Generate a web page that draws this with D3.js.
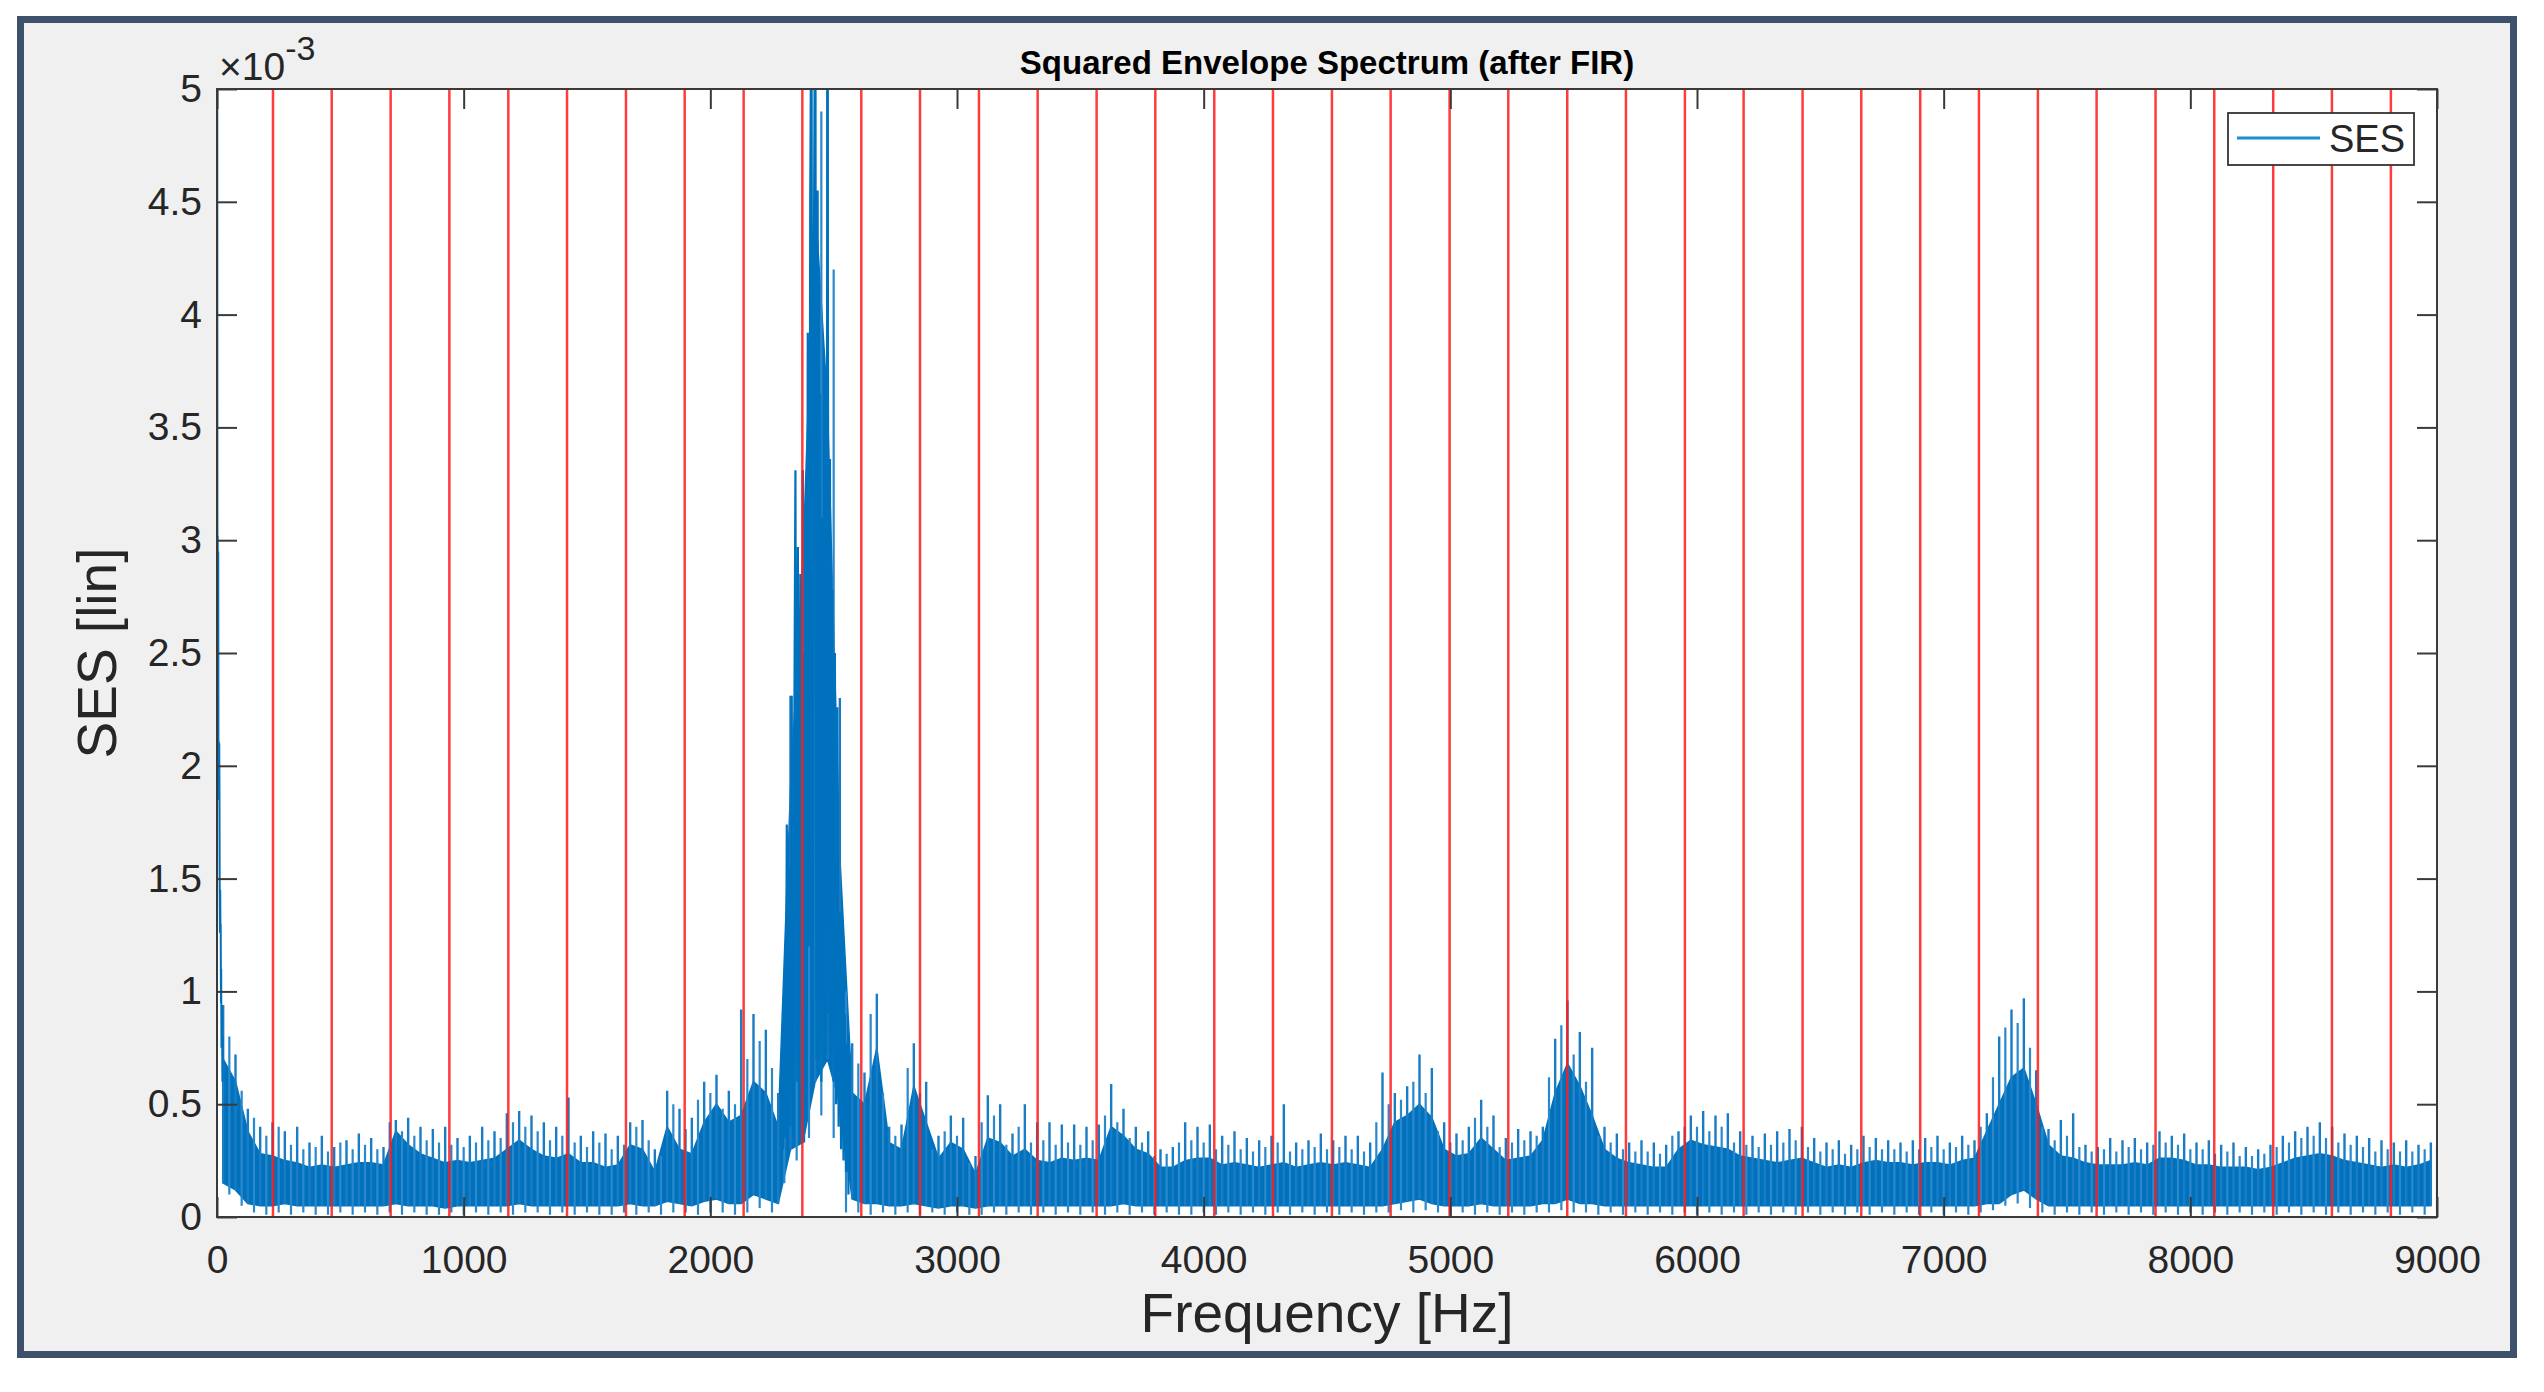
<!DOCTYPE html>
<html><head><meta charset="utf-8">
<script src="https://cdn.jsdelivr.net/npm/d3@7/dist/d3.min.js"></script>
<style>
html,body{margin:0;padding:0;background:#fff;}
svg{display:block;font-family:"Liberation Sans",Arial,Helvetica,sans-serif;}
</style>
</head><body>
<svg id="chart" width="2544" height="1392"></svg>
<script>
// ---------- DATA (values in units of 1e-3) ----------
const titleText = "Squared Envelope Spectrum (after FIR)";
const xLabelText = "Frequency [Hz]";
const yLabelText = "SES [lin]";
const legendLabel = "SES";

const xTickValues = [0,1000,2000,3000,4000,5000,6000,7000,8000,9000];
const xTickLabels = ["0","1000","2000","3000","4000","5000","6000","7000","8000","9000"];
const yTickValues = [0,0.5,1,1.5,2,2.5,3,3.5,4,4.5,5];
const yTickLabels = ["0","0.5","1","1.5","2","2.5","3","3.5","4","4.5","5"];

// red marker lines (Hz)
const markerHz = [227,465,704,942,1181,1419,1658,1896,2135,2373,2612,2850,3089,3327,3566,3804,4043,4281,4520,4758,4997,5235,5474,5712,5951,6189,6428,6666,6905,7143,7382,7620,7859,8097,8336,8574,8813];

// lowest-frequency part of the spectrum (raw points)
const dcHz  = [0,1,2,3,4,5,6,7,8,9,10,11,12,13,14,15,16,17,18,20,22,24];
const dcVal = [0.05,5.6,1.9,3.02,1.85,2.95,1.9,2.11,1.85,2.1,1.9,1.47,1.26,1.45,1.27,1.3,0.95,1.1,0.75,0.94,0.6,0.8];

// main peak region (raw points)
const peakHz  = [2290,2295,2300,2305,2310,2315,2320,2325,2330,2335,2340,2345,2350,2355,2360,2365,2370,2375,2380,2385,2390,2395,2400,2405,2410,2415,2420,2425,2430,2435,2440,2445,2450,2455,2460,2465,2470,2475,2480,2485,2490,2495,2500,2505,2510,2515,2520,2525,2530,2535,2540,2545,2550,2555,2560];
const peakVal = [0.45,0.30,0.83,0.35,1.74,0.45,1.55,0.40,2.31,0.50,2.02,3.31,0.60,2.97,0.55,2.85,0.40,2.50,0.33,2.26,0.55,3.92,1.20,4.50,5.60,0.80,4.30,5.60,0.70,4.55,0.74,3.65,0.60,3.10,0.70,3.00,0.72,5.60,0.90,3.36,0.70,2.78,0.60,2.50,0.50,2.26,0.40,1.35,0.30,1.06,0.25,0.90,0.20,0.77,0.10];

// 50 Hz bins: centre frequency, max spike, top of dense band, bottom of band
const binHz = [25,75,125,175,225,275,325,375,425,475,525,575,625,675,725,775,825,875,925,975,
1025,1075,1125,1175,1225,1275,1325,1375,1425,1475,1525,1575,1625,1675,1725,1775,1825,1875,1925,1975,
2025,2075,2125,2175,2225,2275,2325,2375,2425,2475,2525,2575,2625,2675,2725,2775,2825,2875,2925,2975,
3025,3075,3125,3175,3225,3275,3325,3375,3425,3475,3525,3575,3625,3675,3725,3775,3825,3875,3925,3975,
4025,4075,4125,4175,4225,4275,4325,4375,4425,4475,4525,4575,4625,4675,4725,4775,4825,4875,4925,4975,
5025,5075,5125,5175,5225,5275,5325,5375,5425,5475,5525,5575,5625,5675,5725,5775,5825,5875,5925,5975,
6025,6075,6125,6175,6225,6275,6325,6375,6425,6475,6525,6575,6625,6675,6725,6775,6825,6875,6925,6975,
7025,7075,7125,7175,7225,7275,7325,7375,7425,7475,7525,7575,7625,7675,7725,7775,7825,7875,7925,7975,
8025,8075,8125,8175,8225,8275,8325,8375,8425,8475,8525,8575,8625,8675,8725,8775,8825,8875,8925,8975];

const sesMax = [0.94,0.72,0.48,0.40,0.42,0.38,0.40,0.33,0.36,0.31,0.34,0.37,0.35,0.31,0.43,0.44,0.40,0.39,0.40,0.35,
0.36,0.40,0.38,0.46,0.47,0.45,0.42,0.40,0.53,0.36,0.38,0.37,0.36,0.42,0.43,0.30,0.56,0.48,0.44,0.60,
0.63,0.56,0.92,0.90,0.83,0.55,2.31,3.31,5.60,5.60,2.30,0.77,0.64,0.99,0.40,0.41,0.77,0.60,0.36,0.45,
0.44,0.27,0.54,0.50,0.37,0.50,0.42,0.42,0.41,0.41,0.40,0.41,0.59,0.48,0.40,0.38,0.30,0.31,0.42,0.40,
0.41,0.36,0.38,0.35,0.34,0.36,0.50,0.33,0.34,0.37,0.34,0.36,0.36,0.33,0.64,0.55,0.58,0.72,0.66,0.42,
0.37,0.40,0.52,0.45,0.35,0.39,0.38,0.40,0.79,0.96,0.82,0.75,0.40,0.37,0.33,0.34,0.33,0.32,0.38,0.45,
0.47,0.45,0.46,0.38,0.36,0.37,0.38,0.39,0.40,0.35,0.33,0.34,0.32,0.36,0.35,0.34,0.33,0.34,0.35,0.36,
0.33,0.36,0.34,0.46,0.80,0.92,0.97,0.65,0.39,0.43,0.46,0.32,0.31,0.35,0.34,0.35,0.33,0.38,0.36,0.37,
0.33,0.34,0.32,0.33,0.31,0.30,0.32,0.36,0.38,0.40,0.42,0.40,0.37,0.36,0.35,0.34,0.33,0.34,0.32,0.33];

const sesTop = [0.70,0.60,0.38,0.28,0.27,0.25,0.24,0.22,0.23,0.22,0.23,0.24,0.24,0.23,0.38,0.32,0.28,0.26,0.24,0.25,
0.24,0.25,0.26,0.30,0.34,0.30,0.27,0.26,0.28,0.24,0.24,0.22,0.23,0.32,0.30,0.20,0.40,0.30,0.28,0.42,
0.50,0.42,0.45,0.60,0.55,0.40,1.90,2.90,4.50,3.60,1.60,0.55,0.50,0.75,0.33,0.30,0.58,0.42,0.26,0.33,
0.30,0.19,0.35,0.33,0.27,0.30,0.25,0.24,0.26,0.25,0.26,0.25,0.40,0.36,0.30,0.28,0.22,0.22,0.25,0.26,
0.26,0.23,0.24,0.23,0.22,0.23,0.24,0.22,0.23,0.24,0.23,0.24,0.23,0.22,0.30,0.42,0.45,0.50,0.44,0.30,
0.27,0.28,0.35,0.30,0.25,0.26,0.27,0.34,0.55,0.68,0.58,0.45,0.30,0.26,0.24,0.23,0.22,0.22,0.30,0.34,
0.32,0.31,0.30,0.27,0.26,0.25,0.24,0.25,0.26,0.24,0.22,0.23,0.22,0.24,0.25,0.24,0.24,0.23,0.24,0.24,
0.23,0.25,0.26,0.38,0.50,0.62,0.66,0.50,0.32,0.27,0.26,0.24,0.23,0.23,0.23,0.24,0.23,0.26,0.26,0.25,
0.23,0.23,0.22,0.22,0.22,0.21,0.22,0.24,0.26,0.27,0.28,0.27,0.25,0.24,0.23,0.22,0.23,0.22,0.23,0.25];

const sesMin = [0.15,0.12,0.06,0.05,0.05,0.06,0.05,0.05,0.05,0.05,0.05,0.05,0.05,0.05,0.06,0.05,0.05,0.05,0.04,0.05,
0.05,0.05,0.05,0.05,0.06,0.05,0.05,0.05,0.05,0.05,0.05,0.05,0.05,0.06,0.05,0.05,0.07,0.06,0.05,0.07,
0.08,0.06,0.06,0.10,0.08,0.06,0.30,0.33,0.60,0.70,0.50,0.08,0.06,0.06,0.05,0.05,0.06,0.05,0.04,0.05,
0.05,0.04,0.05,0.05,0.05,0.05,0.05,0.05,0.05,0.05,0.05,0.05,0.05,0.06,0.05,0.05,0.05,0.05,0.05,0.05,
0.05,0.05,0.05,0.05,0.05,0.05,0.05,0.05,0.05,0.05,0.05,0.05,0.05,0.05,0.05,0.06,0.07,0.08,0.06,0.05,
0.05,0.05,0.06,0.05,0.05,0.05,0.05,0.06,0.06,0.08,0.06,0.06,0.05,0.05,0.05,0.05,0.05,0.05,0.05,0.05,
0.05,0.05,0.05,0.05,0.05,0.05,0.05,0.05,0.05,0.05,0.05,0.05,0.05,0.05,0.05,0.05,0.05,0.05,0.05,0.05,
0.05,0.05,0.05,0.06,0.06,0.10,0.12,0.08,0.05,0.05,0.05,0.05,0.05,0.05,0.05,0.05,0.05,0.05,0.05,0.05,
0.05,0.05,0.05,0.05,0.05,0.05,0.05,0.05,0.05,0.05,0.05,0.05,0.05,0.05,0.05,0.05,0.05,0.05,0.05,0.05];

// in-between spikes at the 50 Hz bin edges: edge frequency, spike top, dip bottom
const edgeHz = [50,100,150,200,250,300,350,400,450,500,550,600,650,700,750,800,850,900,950,1000,
1050,1100,1150,1200,1250,1300,1350,1400,1450,1500,1550,1600,1650,1700,1750,1800,1850,1900,1950,2000,
2050,2100,2150,2200,2250,2300,2350,2400,2450,2500,2550,2600,2650,2700,2750,2800,2850,2900,2950,3000,
3050,3100,3150,3200,3250,3300,3350,3400,3450,3500,3550,3600,3650,3700,3750,3800,3850,3900,3950,4000,
4050,4100,4150,4200,4250,4300,4350,4400,4450,4500,4550,4600,4650,4700,4750,4800,4850,4900,4950,5000,
5050,5100,5150,5200,5250,5300,5350,5400,5450,5500,5550,5600,5650,5700,5750,5800,5850,5900,5950,6000,
6050,6100,6150,6200,6250,6300,6350,6400,6450,6500,6550,6600,6650,6700,6750,6800,6850,6900,6950,7000,
7050,7100,7150,7200,7250,7300,7350,7400,7450,7500,7550,7600,7650,7700,7750,7800,7850,7900,7950,8000,
8050,8100,8150,8200,8250,8300,8350,8400,8450,8500,8550,8600,8650,8700,8750,8800,8850,8900,8950,9000];

const sesEdgeMax = [0.80,0.56,0.44,0.36,0.40,0.32,0.30,0.31,0.29,0.33,0.30,0.32,0.30,0.42,0.38,0.36,0.34,0.33,0.32,0.31,
0.33,0.34,0.35,0.42,0.40,0.38,0.34,0.36,0.33,0.31,0.33,0.30,0.32,0.40,0.34,0.27,0.50,0.39,0.52,0.55,
0.48,0.50,0.70,0.78,0.66,0.50,2.60,3.00,4.90,4.20,1.00,0.68,0.90,0.55,0.36,0.66,0.55,0.30,0.38,0.36,
0.24,0.42,0.45,0.32,0.40,0.33,0.34,0.32,0.33,0.32,0.34,0.45,0.42,0.35,0.33,0.27,0.28,0.33,0.34,0.33,
0.30,0.32,0.30,0.29,0.31,0.33,0.29,0.30,0.31,0.30,0.31,0.30,0.29,0.42,0.50,0.52,0.60,0.55,0.38,0.33,
0.34,0.44,0.40,0.31,0.33,0.34,0.36,0.62,0.85,0.72,0.60,0.36,0.33,0.30,0.29,0.29,0.28,0.36,0.40,0.40,
0.38,0.40,0.33,0.32,0.31,0.32,0.33,0.34,0.31,0.29,0.30,0.28,0.30,0.31,0.30,0.30,0.29,0.30,0.31,0.30,
0.31,0.32,0.40,0.62,0.84,0.86,0.75,0.40,0.34,0.36,0.31,0.29,0.30,0.29,0.31,0.30,0.32,0.33,0.32,0.30,
0.30,0.28,0.29,0.27,0.27,0.28,0.31,0.33,0.35,0.36,0.35,0.33,0.32,0.31,0.29,0.30,0.29,0.29,0.30,0.31];

const sesEdgeMin = [0.10,0.05,0.02,0.01,0.02,0.01,0.02,0.01,0.01,0.02,0.01,0.02,0.01,0.02,0.01,0.02,0.01,0.01,0.02,0.01,
0.02,0.01,0.02,0.01,0.02,0.02,0.01,0.02,0.01,0.02,0.01,0.01,0.02,0.01,0.02,0.01,0.02,0.02,0.01,0.02,
0.02,0.01,0.02,0.04,0.02,0.15,0.25,0.35,0.45,0.35,0.02,0.02,0.01,0.02,0.01,0.02,0.01,0.02,0.01,0.02,
0.01,0.01,0.02,0.01,0.02,0.01,0.02,0.01,0.02,0.01,0.02,0.01,0.02,0.01,0.02,0.01,0.02,0.01,0.01,0.02,
0.01,0.02,0.01,0.02,0.01,0.02,0.01,0.02,0.01,0.02,0.01,0.02,0.01,0.02,0.02,0.03,0.02,0.03,0.02,0.01,
0.02,0.01,0.02,0.01,0.02,0.01,0.02,0.02,0.03,0.02,0.02,0.01,0.02,0.01,0.02,0.01,0.02,0.01,0.02,0.01,
0.02,0.01,0.02,0.01,0.02,0.01,0.02,0.01,0.02,0.01,0.02,0.01,0.02,0.01,0.02,0.01,0.02,0.01,0.02,0.01,
0.02,0.01,0.02,0.03,0.05,0.06,0.04,0.02,0.01,0.02,0.01,0.02,0.01,0.02,0.01,0.02,0.01,0.02,0.01,0.02,
0.01,0.02,0.01,0.02,0.01,0.02,0.01,0.02,0.01,0.02,0.01,0.02,0.01,0.02,0.01,0.02,0.01,0.02,0.01,0.02];

// ---------- DRAWING ----------
const plot = {left:217, right:2437, top:89, bottom:1217};
const blue = "#0072BD";
const svg = d3.select("#chart");

// outer frame
svg.append("rect").attr("x",20.5).attr("y",19.5).attr("width",2493).attr("height",1335)
  .attr("fill","#f0f0f0").attr("stroke","#3d516a").attr("stroke-width",7);

const x = d3.scaleLinear().domain([0,9000]).range([plot.left, plot.right]);
const y = d3.scaleLinear().domain([0,5]).range([plot.bottom, plot.top]);

svg.append("rect").attr("x",plot.left).attr("y",plot.top)
  .attr("width",plot.right-plot.left).attr("height",plot.bottom-plot.top).attr("fill","#fff");

svg.append("defs").append("clipPath").attr("id","clip").append("rect")
  .attr("x",plot.left).attr("y",plot.top-1)
  .attr("width",plot.right-plot.left).attr("height",plot.bottom-plot.top+1);

const g = svg.append("g").attr("clip-path","url(#clip)");

const bins = binHz.map((f,i)=>({f, mx:sesMax[i], top:sesTop[i], lo:sesMin[i]}));
const edges = edgeHz.map((f,i)=>({f, mx:sesEdgeMax[i], lo:sesEdgeMin[i]}));

// dense band
g.append("path").datum(bins)
  .attr("d", d3.area().x(d=>x(d.f)).y0(d=>y(d.lo)).y1(d=>y(d.top)))
  .attr("fill", blue).attr("stroke", blue).attr("stroke-width",1.5);

// spikes at bin centres and at bin edges
g.append("path")
  .attr("d", bins.map(d=>`M${x(d.f)},${y(d.lo)}V${y(d.mx)}`).join(""))
  .attr("stroke","#1a7cc4").attr("stroke-width",2.4).attr("fill","none");
g.append("path")
  .attr("d", edges.map(d=>`M${x(d.f)},${y(d.lo)}V${y(d.mx)}`).join(""))
  .attr("stroke","#2a88cc").attr("stroke-width",2.2).attr("fill","none");

// raw low-frequency and peak segments
const line = d3.line().x(d=>x(d[0])).y(d=>y(d[1]));
g.append("path").datum(dcHz.map((f,i)=>[f,dcVal[i]]))
  .attr("d", line).attr("fill","none").attr("stroke",blue).attr("stroke-width",2);
g.append("path").datum(peakHz.map((f,i)=>[f,peakVal[i]]))
  .attr("d", line).attr("fill","none").attr("stroke",blue).attr("stroke-width",2.2);

// red marker lines
g.selectAll("line.mk").data(markerHz).enter().append("line").attr("class","mk")
  .attr("x1",d=>x(d)).attr("x2",d=>x(d)).attr("y1",plot.top).attr("y2",plot.bottom)
  .attr("stroke","#ff1a1a").attr("stroke-opacity",0.85).attr("stroke-width",2.5);

// axes
const axisColor = "#3a3a3a", textColor = "#262626";
function styleAxis(sel){
  sel.select(".domain").remove();
  sel.selectAll(".tick line").attr("stroke",axisColor).attr("stroke-width",2);
  sel.selectAll(".tick text").attr("fill",textColor).attr("font-size",39);
}
svg.append("g").attr("transform",`translate(0,${plot.bottom})`)
  .call(d3.axisBottom(x).tickValues(xTickValues).tickFormat((d,i)=>xTickLabels[i]).tickSize(-20).tickPadding(28))
  .call(styleAxis);
svg.append("g").attr("transform",`translate(0,${plot.top})`)
  .call(d3.axisTop(x).tickValues(xTickValues).tickFormat("").tickSize(-20))
  .call(styleAxis);
svg.append("g").attr("transform",`translate(${plot.left},0)`)
  .call(d3.axisLeft(y).tickValues(yTickValues).tickFormat((d,i)=>yTickLabels[i]).tickSize(-20).tickPadding(15))
  .call(styleAxis);
svg.append("g").attr("transform",`translate(${plot.right},0)`)
  .call(d3.axisRight(y).tickValues(yTickValues).tickFormat("").tickSize(-20))
  .call(styleAxis);

// axes box
svg.append("rect").attr("x",plot.left).attr("y",plot.top)
  .attr("width",plot.right-plot.left).attr("height",plot.bottom-plot.top)
  .attr("fill","none").attr("stroke",axisColor).attr("stroke-width",2);

// exponent label
const ex = svg.append("text").attr("x",219).attr("y",80).attr("fill",textColor).attr("font-size",39);
ex.append("tspan").text("\u00d710");
ex.append("tspan").attr("dy",-20).attr("font-size",34).text("-3");

// title
svg.append("text").attr("x",(plot.left+plot.right)/2).attr("y",74).attr("text-anchor","middle")
  .attr("font-size",33).attr("font-weight","bold").attr("fill","#000").text(titleText);

// axis labels
svg.append("text").attr("x",(plot.left+plot.right)/2).attr("y",1332).attr("text-anchor","middle")
  .attr("font-size",55).attr("fill",textColor).text(xLabelText);
svg.append("text").attr("transform",`translate(116,${(plot.top+plot.bottom)/2}) rotate(-90)`)
  .attr("text-anchor","middle").attr("font-size",55).attr("fill",textColor).text(yLabelText);

// legend
const lg = svg.append("g");
lg.append("rect").attr("x",2228).attr("y",113).attr("width",186).attr("height",52)
  .attr("fill","#fff").attr("stroke","#333").attr("stroke-width",1.8);
lg.append("line").attr("x1",2237).attr("x2",2320).attr("y1",138).attr("y2",138)
  .attr("stroke","#1a8fd6").attr("stroke-width",3);
lg.append("text").attr("x",2329).attr("y",152).attr("font-size",38).attr("fill",textColor).text(legendLabel);
</script>
</body></html>
